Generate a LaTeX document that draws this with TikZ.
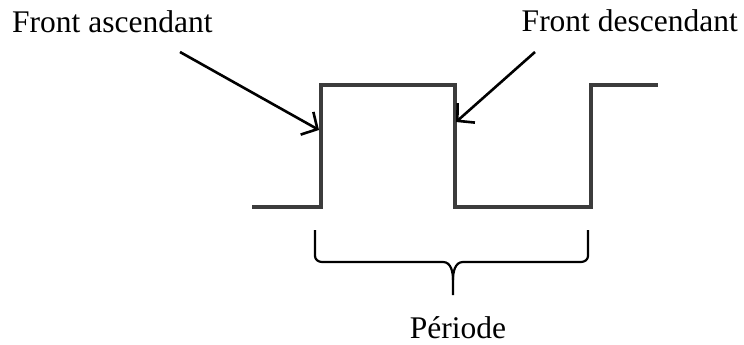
\documentclass[tikz,border=0pt]{standalone}
\usepackage{fontspec}
\setmainfont{Liberation Serif}
\usepackage{xcolor}
\definecolor{signal}{HTML}{3C3C3C}
\usetikzlibrary{arrows.meta, positioning, calc}

\begin{document}
\begin{tikzpicture}[
        x=1pt, y=-1pt,
        label/.style={
            font=\fontsize{31.5}{37}\selectfont,
            inner sep=0pt
        },
        wave/.style={
            line width=3.5pt,
            draw=signal,
            line join=miter
        },
        pointer/.style={
            line width=2.6pt,
            -{Straight Barb[length=12pt, width=26pt, line width=2.6pt]}
        },
        bracket/.style={
            line width=2.2pt
        }
    ]

    \useasboundingbox (0,0) rectangle (744,345);

    % Square wave
    \coordinate (w0) at (252,207);
    \coordinate (r1) at (321,207);
    \coordinate (r1t) at (321,85);
    \coordinate (f1t) at (455,85);
    \coordinate (f1) at (455,207);
    \coordinate (r2) at (591,207);
    \coordinate (r2t) at (591,85);
    \coordinate (w1) at (658,85);
    \draw[wave] (w0) -- (r1) -- (r1t) -- (f1t) -- (f1) -- (r2) -- (r2t) -- (w1);

    % Labels
    \node[label, anchor=base west] (asc) at (12,33) {Front ascendant};
    \node[label, anchor=base east] (desc) at (738,32) {Front descendant};
    \node[label, anchor=base] (per) at (458,338) {Période};

    % Pointers to the edges
    \coordinate (a0) at (180,52);
    \coordinate (a1) at (319,130);
    \coordinate (d0) at (535,52);
    \coordinate (d1) at (456,122);
    \draw[pointer] (a0) -- (a1);
    \draw[pointer] (d0) -- (d1);

    % Brace under one period
    \coordinate (bl) at (315,230);
    \coordinate (br) at (588,230);
    \coordinate (bt) at (453,295);
    \draw[bracket] (bl) -- (315,256) to[out=-90, in=180] (322,262) -- (443,262)
        to[out=0, in=90] (bt |- 0,280) -- (bt);
    \draw[bracket] (br) -- (588,256) to[out=-90, in=0] (581,262) -- (463,262)
        to[out=180, in=90] (bt |- 0,280);

\end{tikzpicture}
\end{document}
